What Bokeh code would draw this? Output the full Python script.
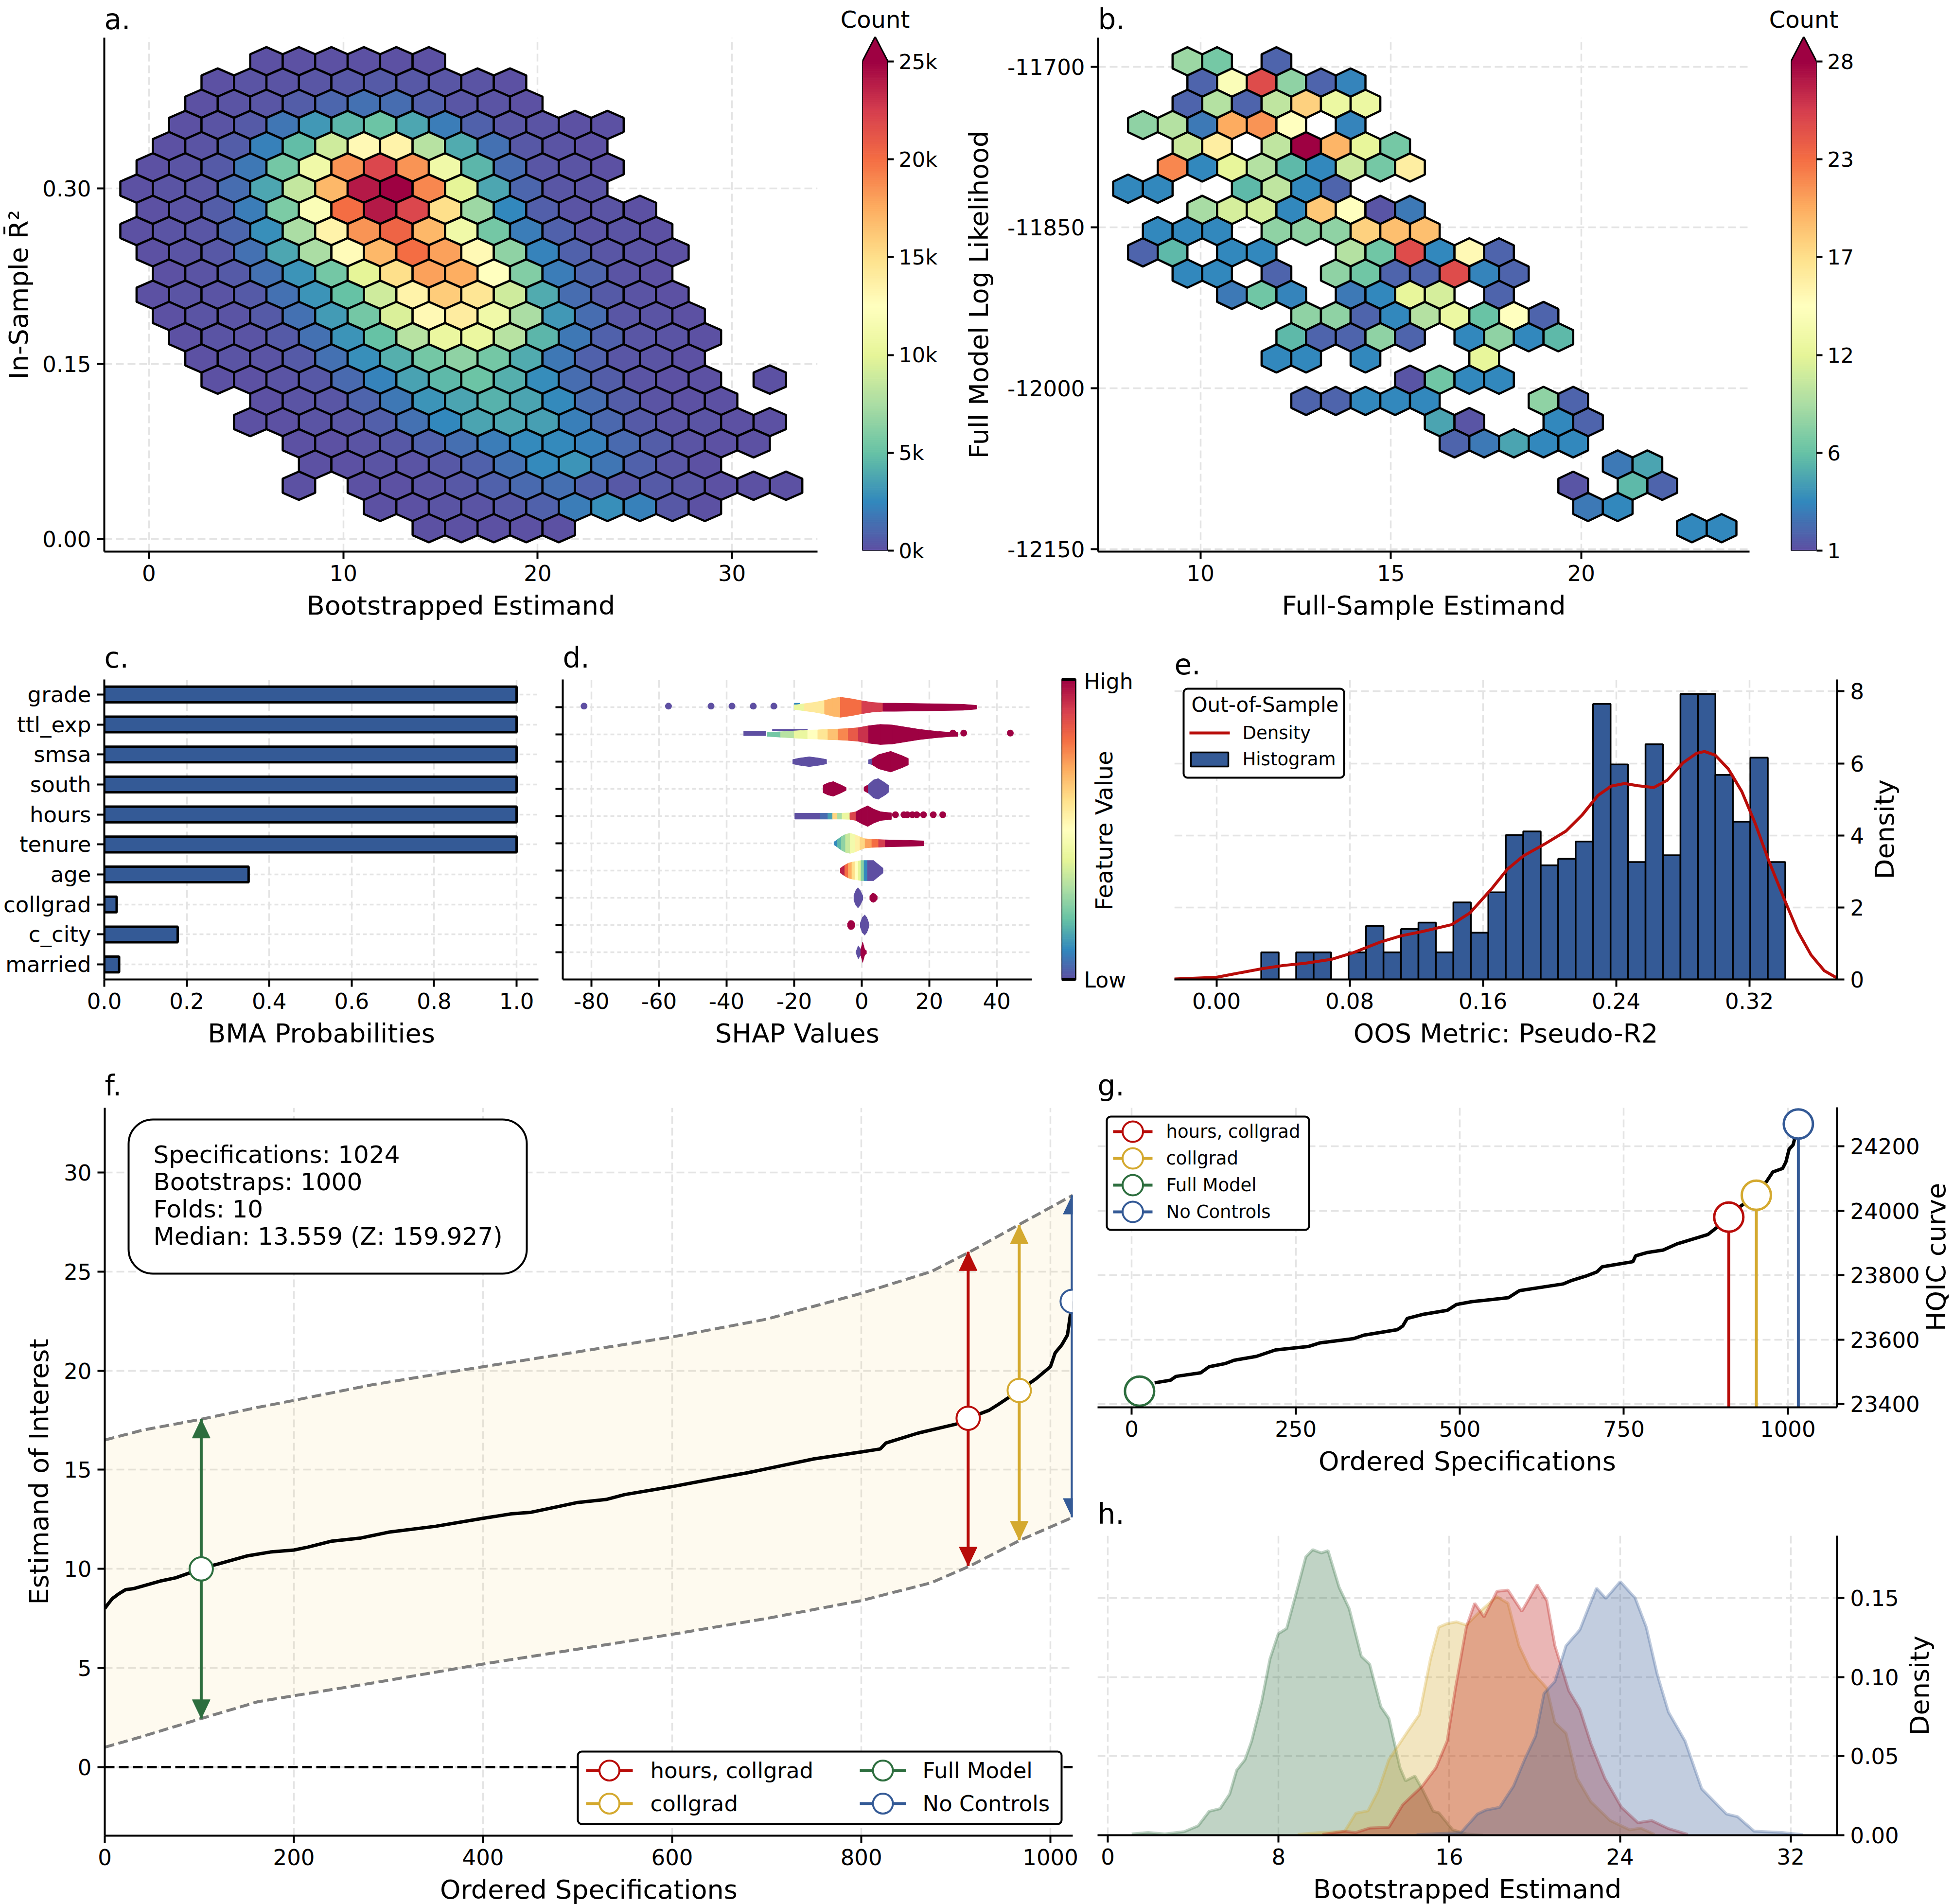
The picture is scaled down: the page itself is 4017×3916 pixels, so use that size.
# Multiverse summary figure, panels a-h

from math import pi

from bokeh.embed import file_html
from bokeh.layouts import column, row
from bokeh.models import BoxAnnotation, Label
from bokeh.plotting import figure
from bokeh.resources import INLINE

# --- panel a: hexbin counts (thousands), one list per row from the top
a_start = [8, 5, 4, 3, 2, 1, 0, 1, 0, 1, 2, 1, 2, 3, 4, 5, 8, 7, 10, 11, 10, 15, 18]
a_counts = [
    [.1, .1, .1, .1, .1, .1],
    [.1, .2, .2, .3, .4, .5, .4, .3, .2, .1],
    [.1, .2, .3, .6, 1, 1.5, 1.3, .7, .3, .2, .1],
    [.1, .2, .5, 1.7, 3.2, 4.5, 5.2, 3.8, 2, .8, .3, .2, .1, .1],
    [.1, .2, .6, 2.2, 4.8, 9, 13, 13.5, 8, 4, 1.5, .4, .2, .1],
    [.1, .2, .5, 1.8, 5.5, 11, 18.5, 22, 18.5, 11, 4.5, 1.3, .3, .2, .1],
    [.1, .2, .3, 1.3, 3.8, 8.5, 17, 24, 25, 19, 10, 3.8, 1, .3, .2],
    [.1, .2, .6, 2, 5.8, 12, 20, 24, 22, 15, 7, 2.5, .7, .2, .2, .1],
    [.1, .2, .3, 1, 2.8, 7.5, 13.5, 18.5, 20.5, 17, 11, 5.5, 2, .8, .2, .2, .1],
    [.1, .2, .4, 1.5, 3.8, 7.5, 12.8, 17, 20, 18, 13, 6.5, 2.3, .8, .3, .2, .1],
    [.1, .2, .5, 1.5, 3, 5.5, 10, 15, 18, 17.5, 12.5, 6, 2, .9, .2, .1],
    [.1, .2, .2, .5, 1.5, 3, 5, 9, 13.5, 16, 14.5, 9, 4, 1.3, .5, .2, .1],
    [.1, .2, .2, .5, 1.5, 3.3, 5.5, 9.5, 13, 14, 11, 7.5, 3.2, 1.3, .3, .2, .1],
    [.1, .2, .2, .5, 1.5, 3, 5, 8, 10.5, 10.5, 8, 4.5, 1.8, .8, .3, .2, .1],
    [.1, .2, .2, .5, 1.5, 2.8, 4.2, 5.5, 6.5, 5.5, 4, 1.8, .8, .3, .2, .1],
    [.1, .1, .2, .4, 1.2, 2.3, 3.6, 4.6, 5.2, 4.2, 2.7, 1.3, .6, .2, .1, .1, None, .1],
    [.1, .2, .3, .9, 1.8, 3, 3.7, 4.3, 3.7, 2.6, 1.3, .6, .2, .1, .1],
    [.1, .1, .2, .3, .7, 1.5, 2.5, 3.7, 3.8, 3.5, 2.1, 1.1, .5, .2, .2, .1, .1],
    [.1, .1, .2, .4, .8, 1.4, 2, 2.6, 2.6, 2.2, 1.2, .6, .2, .1, .1],
    [.1, .1, .2, .2, .4, .8, 1.5, 2.6, 3, 1.7, .8, .3, .1],
    [.1, None, .1, .1, .2, .4, .8, 1.2, 1.4, .8, .4, .5, .3, .1, .1, .1],
    [.1, .1, .2, .2, .4, .8, 2, 2.8, 2.2, .4, .1],
    [.1, .1, .1, .1, .1],
]
a_x0, a_x_step, a_y0, a_y_step = -0.639, 0.8355, 0.409, 0.01817

# --- panel b: hexbin counts
b_start = [4, 5, 4, 1, 4, 3, 0, 5, 2, 1, 4, 7, 12, 11, 10, 19, 12, 21, 22, 33, 30, 31, 38]
b_counts = [
    [8.5, 7, None, 2],
    [2, 14, 24.5, 8, 2, 3.5],
    [2, 9.5, 2, 10, 18, 12.5, 12.5],
    [8, 9.5, 3, 20, 21, 14.5, None, 3.5],
    [10.5, 16, None, 10, 28, 19.5, 12, 7],
    [21.5, 3.7, 12, 9.5, 6, 3.7, 10.5, 7, 16],
    [3.7, 3.7, None, None, 6, 10, 3.7, 2],
    [9, 11, 11, 3.7, 18.5, 14.5, 1.3, 3],
    [3.7, 3.7, 3.7, None, 8, 8, 8, 18, 19, 19],
    [2, 6, None, 3.7, 3.7, None, None, 9.5, 6.8, 24.5, 3.7, 15, 2],
    [3.7, 3.7, None, 2, None, 8, 6.8, 2, 2, 24.5, 3.5, 2],
    [3, 6.8, 3.5, None, 3, 3.7, 12, 11, None, 2],
    [8, 8, 2, 3.7, 9.5, 12.5, 6.5, 14.5, 2],
    [6, 2, 2, 8, 2, None, 3.7, 8, 3.7, 6],
    [3.7, 3.7, None, 3.7, None, None, None, 12],
    [1.3, 6.8, 3.7, 3.7],
    [2, 2, 3.7, 3.7, 3.7, None, None, None, 8, 2],
    [5, 1.3, None, None, 3.7, 2],
    [2, 3, 5, 3.7, 3.7],
    [3, 5],
    [1.3, None, 6, 2],
    [3, 3.7],
    [3.7, 3.7],
]
b_x0, b_x_step, b_y0, b_y_step = 8.098, 0.3897, -11695.1, 19.79

# --- panel c
c_names = ["grade", "ttl_exp", "smsa", "south", "hours", "tenure", "age", "collgrad", "c_city", "married"]
c_probs = [1.0, 1.0, 1.0, 1.0, 1.0, 1.0, 0.35, 0.03, 0.178, 0.036]

# --- panel d: violin outlines, colour value per section (None = gap)
d_x = [
    [-20, -17, -14, -11, -8.5, -6.3, -3, 0, 3, 6.3, 10, 20, 30, 34],
    [-28, -24, -20, -16, -13, -10, -7, -4, -1, 2, 5.5, 9, 13, 17, 22, 26, 28.5],
    [-20.4, -18.5, -15.5, -12.5, -10.4, 2, 3.1, 5, 8.6, 12, 13.8],
    [-11.4, -10, -8.4, -6, -4.6, .7, 1.9, 3.5, 4.9, 7, 8],
    [-19.8, -12.3, -10, -8.6, -7.2, -5.8, -3.5, -1.7, 0, 1.8, 3.5, 5.6, 8.8],
    [-8.2, -7.2, -6, -4.8, -3.4, -2, -.5, 1, 3, 5, 7, 10, 14, 18.4],
    [-6.3, -5, -4, -2.9, -2, -1, -.2, .7, 1.7, 3.5, 5, 6.3],
    [-2.3, -1.7, -1.1, -.5, .3, 2.4, 3, 3.4, 4, 4.6],
    [-4.2, -3.7, -3.2, -2.6, -2, -.4, .2, .9, 1.5, 2.1],
    [-1.6, -1, -.3, -.3, .3, .9, 1.4],
]
d_h = [
    [.08, .13, .18, .25, .33, .37, .31, .24, .18, .15, .15, .13, .11, .07],
    [.07, .1, .13, .16, .17, .19, .2, .22, .25, .32, .37, .35, .27, .19, .12, .08, .07],
    [.08, .13, .18, .13, .08, .07, .11, .26, .38, .22, .12],
    [.14, .22, .27, .14, .05, .07, .15, .33, .38, .22, .12],
    [.11, .11, .11, .11, .11, .11, .12, .16, .28, .38, .26, .16, .12],
    [.05, .14, .25, .33, .37, .32, .24, .17, .15, .14, .13, .12, .11, .09],
    [.09, .2, .27, .31, .33, .35, .37, .37, .37, .37, .22, .09],
    [.1, .28, .37, .28, .08, .07, .15, .17, .14, .06],
    [.06, .15, .17, .15, .06, .08, .28, .37, .28, .08],
    [.05, .24, .1, .1, .37, .1, .06],
]
d_c = [
    [.42, .57, .57, .68, .68, .8, .8, .9, .9, 1, 1, 1, 1],
    [.22, .32, .42, .5, .58, .66, .76, .84, .92, 1, 1, 1, 1, 1, 1, 1],
    [0, 0, 0, 0, None, 0, 1, 1, 1, 1],
    [1, 1, 1, 1, None, 1, 0, 0, 0, 0],
    [0, .05, .14, .62, .3, .42, .88, 1, 1, 1, 1, 1],
    [.1, .18, .26, .35, .45, .55, .62, .72, .8, .9, 1, 1, 1],
    [.95, .8, .7, .6, .5, .4, .25, .1, 0, 0, 0],
    [0, 0, 0, 0, None, 1, 1, 1, 1],
    [1, 1, 1, 1, None, 0, 0, 0, 0],
    [0, 0, None, 1, 1, 1],
]
# runs of points packed into short bars: row, x from, x to, low and high offset from the row line, colour value
d_bar_row = [0, 1, 1, 4]
d_bar_x0 = [-20, -35, -26.5, -8.6]
d_bar_x1 = [-18.2, -28.3, -16, -7.2]
d_bar_lo = [.09, -.05, .13, -.1]
d_bar_hi = [.16, .13, .2, .06]
d_bar_c = [.1, 0, 0, .62]
# single outlying points: row, x, colour value, small lift above the row line
d_dot_row = [0] * 6 + [1] * 3 + [4] * 8
d_dot_x = [-82.2, -57.2, -44.6, -38.4, -32.1, -26,
           27, 30.2, 44,
           10, 12.5, 13.5, 15, 16.3, 18.3, 21.2, 24]
d_dot_c = [0] * 6 + [1] * 3 + [1] * 8
d_dot_lift = [.04] * 6 + [.05] * 3 + [.05] * 8

# --- panel e
e_first_edge, e_bin_width = 0.0269, 0.01049
e_hist = [.754, 0, .754, .754, 0, .754, 1.49, .754, 1.40, 1.58, .754, 2.14, 1.30, 2.42, 4.01,
          4.11, 3.17, 3.35, 3.83, 7.65, 5.97, 3.26, 6.53, 3.45, 7.93, 7.93, 5.68, 4.38, 6.16, 3.26]
e_kde_x = [-.0253, 0, .0147, .0275, .0403, .0531, .0691, .0819, .0979, .1107, .1235, .1411, .1523,
           .1651, .1747, .1843, .1971, .2099, .2195, .2291, .2371, .2451, .2531, .2627, .2707,
           .2803, .2883, .2931, .2995, .3075, .3155, .3235, .3315, .3411, .3491, .3571, .3651, .3727]
e_kde_y = [.015, .06, .19, .30, .39, .45, .56, .74, 1.03, 1.21, 1.33, 1.52, 1.85, 2.51, 3.06, 3.43,
           3.76, 4.12, 4.56, 5.11, 5.37, 5.44, 5.38, 5.33, 5.53, 6.02, 6.28, 6.33, 6.23, 5.84, 5.22,
           4.34, 3.32, 2.22, 1.34, .68, .24, .04]

# --- panel f
f_x = [0, 3, 8, 15, 22, 30, 45, 60, 75, 90, 100, 120, 150, 175, 200, 215, 240, 270, 300, 350, 400,
       430, 450, 480, 500, 530, 550, 600, 650, 680, 700, 750, 800, 820, 826, 860, 900, 913, 935,
       945, 967, 985, 1000, 1005, 1012, 1018, 1021, 1023]
f_y = [8.0, 8.2, 8.5, 8.75, 8.95, 9.0, 9.2, 9.4, 9.55, 9.8, 10.0, 10.25, 10.65, 10.85, 10.95, 11.1,
       11.4, 11.55, 11.85, 12.15, 12.55, 12.78, 12.85, 13.15, 13.35, 13.5, 13.75, 14.15, 14.6,
       14.85, 15.05, 15.55, 15.9, 16.05, 16.35, 16.85, 17.3, 17.6, 18.0, 18.3, 19.0, 19.6, 20.2,
       20.9, 21.3, 21.8, 22.8, 23.5]
f_band_x = [0, 40, 102, 162, 200, 284, 400, 600, 700, 800, 874, 915, 968, 1023.6]
f_band_hi = [16.5, 17, 17.55, 18.15, 18.5, 19.3, 20.2, 21.7, 22.6, 23.9, 25, 26, 27.4, 28.85]
f_band_lo = [1, 1.55, 2.45, 3.3, 3.6, 4.25, 5.2, 6.7, 7.5, 8.4, 9.3, 10.15, 11.45, 12.6]
f_info = ["Specifications: 1024", "Bootstraps: 1000", "Folds: 10", "Median: 13.559 (Z: 159.927)"]

spec_names = ["hours, collgrad", "collgrad", "Full Model", "No Controls"]
spec_colors = ["#b80c09", "#d4a92f", "#2d6e3e", "#345a96"]
f_spec_x = [913, 967, 102, 1023]
f_spec_y = [17.6, 19.0, 10.0, 23.5]
f_spec_lo = [10.15, 11.45, 2.45, 12.6]
f_spec_hi = [26.0, 27.35, 17.55, 28.85]

# --- panel g
g_x = [35, 59, 67.5, 105, 118, 143, 156, 190, 219, 270, 287, 338, 354, 405, 413, 420, 443, 481, 495,
       519, 574, 591, 658, 671, 692, 709, 717, 764, 768, 785, 810, 831, 878, 890, 910, 928, 952, 968,
       977, 992, 997, 1002, 1008, 1016]
g_y = [23466, 23474, 23486, 23497, 23516, 23526, 23536, 23548, 23568, 23579, 23590, 23603, 23614,
       23631, 23642, 23666, 23678, 23691, 23709, 23718, 23730, 23752, 23773, 23784, 23797, 23810,
       23826, 23842, 23860, 23870, 23878, 23897, 23926, 23945, 23979, 24014, 24048, 24092, 24120,
       24131, 24151, 24191, 24204, 24269]
g_spec_x = [910, 952, 12, 1016]
g_spec_y = [23980, 24048, 23440, 24269]

# --- panel h: one density per specification
h_x = [
    [10.06, 11.1, 11.62, 12.27, 13.17, 13.82, 14.73, 15.38, 15.9, 16.29, 16.8, 17.19, 17.63, 18.23,
     18.75, 19.4, 20.12, 20.57, 20.95, 21.6, 22.12, 22.64, 23.29, 24.07, 24.84, 25.49, 26.27, 27.18],
    [8.9, 9.93, 11.1, 11.62, 12.19, 12.66, 13.17, 14.08, 14.6, 15.12, 15.51, 15.9, 16.34, 16.8, 17.32,
     18.23, 18.75, 19.27, 19.79, 20.57, 20.95, 21.47, 21.99, 22.64, 23.55, 24.46, 24.97, 25.62],
    [1.12, 1.89, 2.67, 3.58, 4.23, 4.75, 5.26, 5.71, 6.04, 6.43, 6.74, 7.21, 7.6, 7.99, 8.38, 8.9, 9.28,
     9.6, 10.01, 10.32, 10.84, 11.31, 11.88, 12.27, 12.79, 13.17, 13.69, 13.95, 14.39, 14.73, 15.25,
     15.51, 16.16, 16.8, 17.58],
    [14.47, 16.55, 17.32, 17.71, 18.36, 19.01, 19.53, 20.05, 20.44, 20.95, 21.47, 22.12, 22.51, 22.9,
     23.34, 24.01, 24.71, 25.23, 25.75, 26.27, 27.05, 27.83, 28.99, 29.51, 30.29, 31.59, 32.57],
]
h_y = [
    [.0005, .0025, .0017, .0045, .005, .0193, .031, .0427, .0595, .093, .1316, .1467, .138, .1542,
     .155, .1416, .1584, .1483, .1198, .0914, .0796, .0578, .036, .0176, .0079, .0092, .0042, .0005],
    [.0005, .0017, .0025, .0139, .0154, .0277, .0478, .0662, .0763, .1115, .1316, .1338, .1349, .1329,
     .14, .1509, .1467, .1198, .1048, .093, .0712, .0645, .036, .021, .0092, .0034, .0045, .0005],
    [.0008, .0017, .0008, .0022, .0059, .0151, .0168, .026, .0411, .0478, .0595, .0846, .1115, .1274,
     .1307, .1567, .176, .1805, .1785, .1799, .1567, .1433, .1131, .1081, .0813, .0738, .0427, .0344,
     .0374, .0293, .0151, .0142, .0034, .0008, 0],
    [.0003, .0017, .0134, .0159, .0176, .031, .0478, .0629, .0897, .0972, .1198, .1299, .1433, .1562,
     .1497, .1604, .15, .1316, .1014, .0779, .0595, .0293, .0134, .0117, .0025, .0017, .0003],
]

BAR_BLUE = "#345a96"
GRID = "#e4e4e4"
FONT = "DejaVu Sans"
SPECTRAL = ["#5e4fa2", "#3288bd", "#66c2a5", "#abdda4", "#e6f598", "#ffffbf",
            "#fee08b", "#fdae61", "#f46d43", "#d53e4f", "#9e0142"]


def spectral(t):
    t = max(0.0, min(1.0, t)) * 10
    i = min(int(t), 9)
    f = t - i
    a, b = SPECTRAL[i], SPECTRAL[i + 1]
    rgb = [round(int(a[k:k + 2], 16) * (1 - f) + int(b[k:k + 2], 16) * f) for k in (1, 3, 5)]
    return "#%02x%02x%02x" % tuple(rgb)


def panel(box, xr, yr, y_side="left", x_side="below", letter=None, standoff=22):
    # box: left border, frame width, right border, top border, frame height, bottom border
    l, w, r, t, h, b = box
    p = figure(width=l + w + r, height=t + h + b, frame_width=w, frame_height=h,
               min_border_left=l, min_border_right=r, min_border_top=t, min_border_bottom=b,
               x_range=xr, y_range=yr, output_backend="svg", toolbar_location=None,
               y_axis_location=y_side, x_axis_location=x_side, frame_align=False)
    p.outline_line_color = None
    for ax in p.axis:
        ax.axis_line_width = 4
        ax.axis_line_color = "black"
        ax.major_tick_line_width = 4
        ax.major_tick_line_color = "black"
        ax.major_tick_out = 15
        ax.major_tick_in = 0
        ax.minor_tick_line_color = None
        ax.major_label_text_font = FONT
        ax.major_label_text_font_size = "45px"
        ax.major_label_text_color = "black"
        ax.major_label_standoff = 12
        ax.axis_label_text_font = FONT
        ax.axis_label_text_font_size = "54px"
        ax.axis_label_text_color = "black"
        ax.axis_label_text_font_style = "normal"
        ax.axis_label_standoff = 16
    for g in p.grid:
        g.grid_line_color = GRID
        g.grid_line_width = 3.5
        g.grid_line_dash = [16, 8]
    if letter:
        head(p, letter, 58, "left", standoff)
    return p


def head(p, s, size, align, standoff):
    # text above the frame goes in the title, a label would be cut at the frame
    p.title.text = s
    p.title.align = align
    p.title.text_font = FONT
    p.title.text_font_size = "%dpx" % size
    p.title.text_font_style = "normal"
    p.title.text_color = "black"
    p.title.standoff = standoff


def set_ticks(axis, ticks, labels):
    axis.ticker = ticks
    axis.major_label_overrides = dict(zip(ticks, labels))


def at(p, ax, ay):
    # data position of a point given in pixels from the frame's top left corner
    x0, x1 = p.x_range.start, p.x_range.end
    y0, y1 = p.y_range.start, p.y_range.end
    return x0 + ax / p.frame_width * (x1 - x0), y1 - ay / p.frame_height * (y1 - y0)


def text(p, s, ax, ay, size, align="left", baseline="middle", angle=0):
    x, y = at(p, ax, ay)
    p.add_layout(Label(x=x, y=y, text=s, text_font=FONT, text_font_size="%dpx" % size, text_color="black",
                       text_align=align, text_baseline=baseline, angle=angle))


def side_label(s, w, h, ax, ay):
    # right hand axis titles read upwards here, bokeh's own one will not centre that way
    p = panel((0, w, 0, 0, h, 0), (0, w), (0, h), y_side=None, x_side=None)
    p.grid.visible = False
    text(p, s, ax, ay, 54, align="center", angle=pi / 2)
    return p


def rounded_box(p, left, top, right, bottom, radius=14):
    x0, y1 = at(p, left, top)
    x1, y0 = at(p, right, bottom)
    p.add_layout(BoxAnnotation(left=x0, right=x1, bottom=y0, top=y1, fill_color="white", fill_alpha=1,
                               line_color="black", line_alpha=1, line_width=4, border_radius=radius))


def key_entry(p, name, color, a0, a1, ay, atext, marker_size, font_size):
    x0, y = at(p, a0, ay)
    x1, _ = at(p, a1, ay)
    p.line([x0, x1], [y, y], line_color=color, line_width=6, level="overlay")
    p.scatter([(x0 + x1) / 2], [y], size=marker_size, fill_color="white", line_color=color,
              line_width=4, level="overlay")
    text(p, name, atext, ay, font_size)


def hexes(p, start, counts, x0, x_step, y0, y_step, t_of):
    xs, ys, colors = [], [], []
    r = y_step / 1.5
    for i, vals in enumerate(counts):
        y = y0 - i * y_step
        for j, v in enumerate(vals):
            if v is None:
                continue
            x = x0 + (start[i] + 2 * j) * x_step
            xs.append([x, x + x_step, x + x_step, x, x - x_step, x - x_step])
            ys.append([y + r, y + r / 2, y - r / 2, y - r, y - r / 2, y + r / 2])
            colors.append(spectral(t_of(v)))
    p.patches(xs, ys, fill_color=colors, line_color="black", line_width=4.5)


def strips(p, lo, hi):
    n = 256
    step = (hi - lo) / n
    cols = [spectral((i + .5) / n) for i in range(n)]
    p.quad(left=0, right=1, bottom=[lo + i * step for i in range(n)], top=[lo + (i + 1) * step for i in range(n)],
           fill_color=cols, line_color=cols, line_width=1)


def colorbar(box, lo, hi, ticks, labels):
    l, w, r, t, h, b = box
    top = hi + (hi - lo) * 51 / (h - 51)
    p = panel(box, (0, 1), (lo, top), y_side="right", x_side=None)
    p.grid.visible = False
    strips(p, lo, hi)
    p.patch([0, 1, .5], [hi, hi, top], fill_color=SPECTRAL[-1], line_color=None)
    p.line([0, 0, .5, 1, 1, 0], [lo, hi, top, hi, lo, lo], line_color="black", line_width=3)
    set_ticks(p.yaxis[0], ticks, labels)
    p.yaxis.axis_line_color = None
    p.yaxis.major_label_text_font_size = "43px"
    p.yaxis.major_tick_out = 12
    p.yaxis.major_label_standoff = 10
    head(p, "Count", 48, "center", 16)
    return p


# a
pa = panel((214, 1467, 19, 75, 1057, 168), (-2.3, 34.4), (-0.0108, 0.4292), letter="a.", standoff=7)
set_ticks(pa.xaxis[0], [0, 10, 20, 30], ["0", "10", "20", "30"])
set_ticks(pa.yaxis[0], [0, .15, .3], ["0.00", "0.15", "0.30"])
pa.xaxis.axis_label = "Bootstrapped Estimand"
pa.yaxis.axis_label = "In-Sample R\u0304\u00b2"
pa.yaxis.axis_label_standoff = 14
hexes(pa, a_start, a_counts, a_x0, a_x_step, a_y0, a_y_step, lambda v: v / 25)

cba = colorbar((73, 53, 144, 75, 1057, 168), 0, 25000, [0, 5000, 10000, 15000, 20000, 25000],
               ["0k", "5k", "10k", "15k", "20k", "25k"])

# b
pb = panel((288, 1340, 42, 75, 1057, 168), (7.31, 24.42), (-12152.3, -11673), letter="b.", standoff=7)
set_ticks(pb.xaxis[0], [10, 15, 20], ["10", "15", "20"])
set_ticks(pb.yaxis[0], [-11700, -11850, -12000, -12150], ["-11700", "-11850", "-12000", "-12150"])
pb.xaxis.axis_label = "Full-Sample Estimand"
pb.yaxis.axis_label = "Full Model Log Likelihood"
pb.yaxis.axis_label_standoff = 24
hexes(pb, b_start, b_counts, b_x0, b_x_step, b_y0, b_y_step, lambda v: (v - 1) / 27)

cbb = colorbar((43, 53, 280, 75, 1057, 168), 1, 28, [1, 6.4, 11.8, 17.2, 22.6, 28],
               ["1", "6", "12", "17", "23", "28"])

# c
pc = panel((214, 893, 33, 95, 617, 168), (0, 1.053), (-0.5, 9.5), letter="c.")
pc_y = [9 - i for i in range(len(c_names))]
set_ticks(pc.yaxis[0], pc_y, c_names)
set_ticks(pc.xaxis[0], [0, .2, .4, .6, .8, 1], ["0.0", "0.2", "0.4", "0.6", "0.8", "1.0"])
pc.xaxis.axis_label = "BMA Probabilities"
pc.ygrid.grid_line_dash = [8, 6]
pc.hbar(y=pc_y, left=0, right=c_probs, height=0.52, fill_color=BAR_BLUE, line_color="black", line_width=5)

# d
pd_ = panel((17, 965, 28, 95, 617, 168), (-88.5, 50.4), (-1, 10.02), letter="d.")
set_ticks(pd_.xaxis[0], [-80, -60, -40, -20, 0, 20, 40], ["-80", "-60", "-40", "-20", "0", "20", "40"])
set_ticks(pd_.yaxis[0], list(range(10)), [""] * 10)
pd_.yaxis.major_label_standoff = 0
pd_.xaxis.axis_label = "SHAP Values"
pd_.ygrid.grid_line_dash = [8, 6]
v_xs, v_ys, v_cs = [], [], []
for i in range(len(d_x)):
    y = 9 - i
    for j, c in enumerate(d_c[i]):
        if c is None:
            continue
        x0, x1, h0, h1 = d_x[i][j], d_x[i][j + 1], d_h[i][j], d_h[i][j + 1]
        v_xs.append([x0, x1, x1, x0])
        v_ys.append([y + h0, y + h1, y - h1, y - h0])
        v_cs.append(spectral(c))
bar_colors = [spectral(c) for c in d_bar_c]
pd_.quad(left=d_bar_x0, right=d_bar_x1, bottom=[9 - r + o for r, o in zip(d_bar_row, d_bar_lo)],
         top=[9 - r + o for r, o in zip(d_bar_row, d_bar_hi)], fill_color=bar_colors, line_color=None)
pd_.patches(v_xs, v_ys, fill_color=v_cs, line_color=v_cs, line_width=1)
pd_.scatter(d_dot_x, [9 - r + o for r, o in zip(d_dot_row, d_dot_lift)], size=14,
            fill_color=[spectral(c) for c in d_dot_c], line_color=None)

# feature value bar: the frame is wider than the bar so its texts stay inside it
cbd = panel((33, 157, 0, 40, 700, 140), (0, 157 / 29), (-28 / 617, 1 + 55 / 617), y_side=None, x_side=None)
cbd.grid.visible = False
strips(cbd, 0, 1)
cbd.line([0, 0, 1, 1, 0], [0, 1, 1, 0, 0], line_color="black", line_width=3)
cbd.line([0, 1], [1, 1], line_color="black", line_width=6)
cbd.line([0, 1], [0, 0], line_color="black", line_width=6)
text(cbd, "High", 46, 59, 44)
text(cbd, "Low", 46, 673, 44)
text(cbd, "Feature Value", 87, 366, 48, align="center", angle=pi / 2)

# e
pe = panel((75, 1363, 60, 95, 617, 168), (-0.02526, 0.3727), (0, 8.33), y_side="right", letter="e.")
set_ticks(pe.xaxis[0], [0, .08, .16, .24, .32], ["0.00", "0.08", "0.16", "0.24", "0.32"])
set_ticks(pe.yaxis[0], [0, 2, 4, 6, 8], ["0", "2", "4", "6", "8"])
pe.xaxis.axis_label = "OOS Metric: Pseudo-R2"
e_left = [e_first_edge + i * e_bin_width for i in range(len(e_hist))]
e_shown = [i for i, v in enumerate(e_hist) if v > 0]
pe.quad(left=[e_left[i] for i in e_shown], right=[e_left[i] + e_bin_width for i in e_shown], bottom=0,
        top=[e_hist[i] for i in e_shown], fill_color=BAR_BLUE, line_color="black", line_width=3.5)
pe.line(e_kde_x, e_kde_y, line_color=spec_colors[0], line_width=6)
rounded_box(pe, 19, 19, 349, 202, radius=8)
text(pe, "Out-of-Sample", 35, 52, 42)
x0, y = at(pe, 31, 110)
x1, _ = at(pe, 114, 110)
pe.line([x0, x1], [y, y], line_color=spec_colors[0], line_width=6, level="overlay")
text(pe, "Density", 140, 110, 37)
x0, y1 = at(pe, 34, 150)
x1, y0 = at(pe, 111, 179)
pe.quad(left=[x0], right=[x1], bottom=[y0], top=[y1], fill_color=BAR_BLUE, line_color="black", line_width=3.5,
        level="overlay")
text(pe, "Histogram", 140, 164, 37)
le = side_label("Density", 178, 880, 38, 403)

# f
pf = panel((215, 1991, 19, 96, 1497, 142), (0, 1023.6), (-3.46, 33.26), letter="f.", standoff=24)
set_ticks(pf.xaxis[0], [0, 200, 400, 600, 800, 1000], ["0", "200", "400", "600", "800", "1000"])
set_ticks(pf.yaxis[0], [0, 5, 10, 15, 20, 25, 30], ["0", "5", "10", "15", "20", "25", "30"])
pf.xaxis.axis_label = "Ordered Specifications"
pf.yaxis.axis_label = "Estimand of Interest"
pf.varea(f_band_x, f_band_lo, f_band_hi, fill_color="#f0c030", fill_alpha=0.08)
pf.line(f_band_x, f_band_hi, line_color="#7f7f7f", line_width=6, line_dash=[20, 9])
pf.line(f_band_x, f_band_lo, line_color="#7f7f7f", line_width=6, line_dash=[20, 9])
pf.line([0, 1023.6], [0, 0], line_color="black", line_width=5, line_dash=[20, 9])
pf.line(f_x, f_y, line_color="black", line_width=7)
head_w, head_l = 9.5, 0.95
for x, y, lo, hi, c in zip(f_spec_x, f_spec_y, f_spec_lo, f_spec_hi, spec_colors):
    pf.line([x, x], [lo, hi], line_color=c, line_width=6)
    pf.patch([x - head_w, x + head_w, x], [hi - head_l, hi - head_l, hi], fill_color=c, line_color=c)
    pf.patch([x - head_w, x + head_w, x], [lo + head_l, lo + head_l, lo], fill_color=c, line_color=c)
    pf.scatter([x], [y], size=48, fill_color="white", line_color=c, line_width=4)
rounded_box(pf, 49, 24, 868, 341, radius=50)
for i, s in enumerate(f_info):
    text(pf, s, 100, 96 + i * 56.3, 50)
rounded_box(pf, 973, 1324, 1968, 1473, radius=8)
key_entry(pf, spec_names[0], spec_colors[0], 990, 1086, 1363, 1122, 41, 45)
key_entry(pf, spec_names[1], spec_colors[1], 990, 1086, 1431, 1122, 41, 45)
key_entry(pf, spec_names[2], spec_colors[2], 1553, 1648, 1363, 1682, 41, 45)
key_entry(pf, spec_names[3], spec_colors[3], 1553, 1648, 1431, 1682, 41, 45)

# g
pg = panel((32, 1521, 176, 95, 617, 168), (-52, 1075), (23390, 24320.7), y_side="right", letter="g.")
set_ticks(pg.xaxis[0], [0, 250, 500, 750, 1000], ["0", "250", "500", "750", "1000"])
set_ticks(pg.yaxis[0], [23400, 23600, 23800, 24000, 24200], ["23400", "23600", "23800", "24000", "24200"])
pg.xaxis.axis_label = "Ordered Specifications"
pg.line(g_x, g_y, line_color="black", line_width=7)
for x, y, c in zip(g_spec_x, g_spec_y, spec_colors):
    pg.line([x, x], [23390, y], line_color=c, line_width=6)
    pg.scatter([x], [y], size=60, fill_color="white", line_color=c, line_width=5)
rounded_box(pg, 19, 19, 435, 252, radius=8)
for i in range(4):
    key_entry(pg, spec_names[i], spec_colors[i], 32, 113, 50 + i * 55, 141, 42, 37)
lg = side_label("HQIC curve", 62, 880, 28, 403)

# h
ph = panel((32, 1521, 130, 96, 616, 144), (-0.48, 34.17), (0, 0.1894), y_side="right", letter="h.")
set_ticks(ph.xaxis[0], [0, 8, 16, 24, 32], ["0", "8", "16", "24", "32"])
set_ticks(ph.yaxis[0], [0, .05, .1, .15], ["0.00", "0.05", "0.10", "0.15"])
ph.xaxis.axis_label = "Bootstrapped Estimand"
for order in (2, 1, 0, 3):
    xs, ys, c = h_x[order], h_y[order], spec_colors[order]
    ph.varea(xs, [0] * len(xs), ys, fill_color=c, fill_alpha=0.3)
    ph.line(xs, ys, line_color=c, line_width=6, line_alpha=0.3)
lh = side_label("Density", 108, 856, 40, 404)

layout = column(
    row(pa, cba, pb, cbb),
    row(pc, pd_, cbd, pe, le),
    row(pf, column(row(pg, lg), row(ph, lh))),
)

open("out.html", "w").write(file_html(layout, INLINE))
